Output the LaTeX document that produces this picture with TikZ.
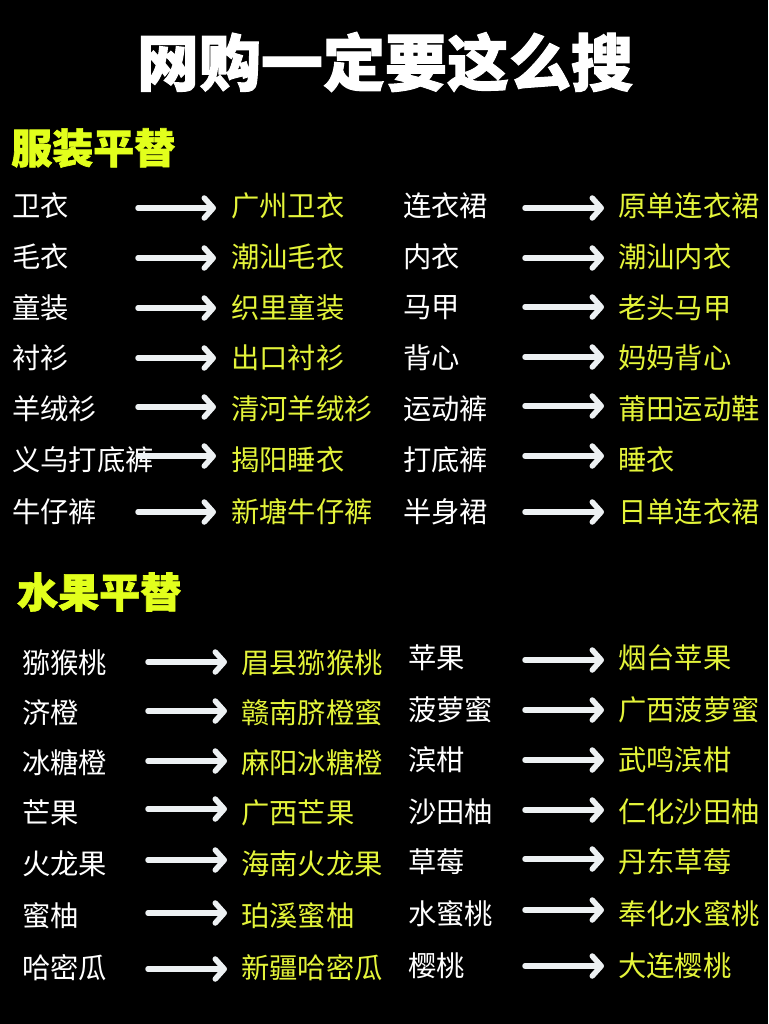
\documentclass[tikz,border=0pt]{standalone}
\usepackage{fontspec}
\setmainfont{Noto Sans CJK SC}
\newfontfamily\heavyfont{Noto Sans CJK SC}[BoldFeatures={FakeBold=1.6}]
\usetikzlibrary{arrows.meta}
\definecolor{hdrc}{HTML}{E2FF1C}
\definecolor{rtc}{HTML}{E4F43A}
\definecolor{arrc}{HTML}{EDF1F3}
\begin{document}
\begin{tikzpicture}[x=1pt,y=-1pt,
  item/.style={anchor=west, inner sep=0pt, text=white, font=\fontsize{28.3}{28}\selectfont},
  target/.style={item, text=rtc},
  hdr/.style={anchor=west, inner sep=0pt, text=hdrc, font=\fontsize{41}{41}\heavyfont\bfseries},
  conn/.style={draw=arrc, line width=5.5pt, line cap=round,
    -{Straight Barb[round,length=9pt,width=20pt]}}]
\fill[black] (0,0) rectangle (768,1024);
\useasboundingbox (0,0) rectangle (768,1024);
\node[inner sep=0pt, text=white, font=\fontsize{62}{62}\heavyfont\bfseries] (title) at (385,62) {网购一定要这么搜};
\node[hdr] (h1) at (11,148) {服装平替};
\node[hdr] (h2) at (17,592) {水果平替};
% clothing, column 1
\foreach \y/\ay/\a/\b [count=\i] in {206/208/卫衣/广州卫衣, 257/258/毛衣/潮汕毛衣, 308/308/童装/织里童装, 358/358/衬衫/出口衬衫, 409/407/羊绒衫/清河羊绒衫, 460/456/义乌打底裤/揭阳睡衣, 512/512/牛仔裤/新塘牛仔裤}{
  \node[item] (ca\i) at (12,\y) {\a};
  \node[target] (cb\i) at (231,\y) {\b};
  \coordinate (cs\i) at (138,\ay);
  \coordinate (ce\i) at (216,\ay);
  \draw[conn] (cs\i) -- (ce\i);
}
% clothing, column 2
\foreach \y/\ay/\a/\b [count=\i] in {206/208/连衣裙/原单连衣裙, 257/258/内衣/潮汕内衣, 308/307/马甲/老头马甲, 358/357/背心/妈妈背心, 409/406/运动裤/莆田运动鞋, 460/456/打底裤/睡衣, 512/512/半身裙/日单连衣裙}{
  \node[item] (da\i) at (403,\y) {\a};
  \node[target] (db\i) at (618,\y) {\b};
  \coordinate (ds\i) at (525,\ay);
  \coordinate (de\i) at (604,\ay);
  \draw[conn] (ds\i) -- (de\i);
}
% fruit, column 1
\foreach \y/\ay/\a/\b [count=\i] in {663/662/猕猴桃/眉县猕猴桃, 713/711/济橙/赣南脐橙蜜, 763/761/冰糖橙/麻阳冰糖橙, 813/809/芒果/广西芒果, 864/860/火龙果/海南火龙果, 916/913/蜜柚/珀溪蜜柚, 968/969/哈密瓜/新疆哈密瓜}{
  \node[item] (fa\i) at (22,\y) {\a};
  \node[target] (fb\i) at (241,\y) {\b};
  \coordinate (fs\i) at (148,\ay);
  \coordinate (fe\i) at (227,\ay);
  \draw[conn] (fs\i) -- (fe\i);
}
% fruit, column 2
\foreach \y/\ay/\a/\b [count=\i] in {658/660/苹果/烟台苹果, 710/710/菠萝蜜/广西菠萝蜜, 760/760/滨柑/武鸣滨柑, 812/810/沙田柚/仁化沙田柚, 862/859/草莓/丹东草莓, 914/910/水蜜桃/奉化水蜜桃, 966/966/樱桃/大连樱桃}{
  \node[item] (ga\i) at (408,\y) {\a};
  \node[target] (gb\i) at (618,\y) {\b};
  \coordinate (gs\i) at (525,\ay);
  \coordinate (ge\i) at (604,\ay);
  \draw[conn] (gs\i) -- (ge\i);
}
\end{tikzpicture}
\end{document}
